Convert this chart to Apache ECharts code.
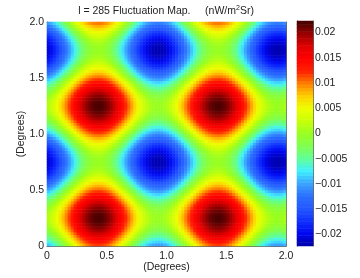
<!DOCTYPE html>
<html><head><meta charset="utf-8">
<style>html,body{margin:0;padding:0;background:#fff}#c{width:360px;height:278px}</style>
<script src="https://cdn.jsdelivr.net/npm/echarts@6/dist/echarts.min.js"></script>
</head><body><div id="c"></div>
<script>
// Map values in units of 1e-4 nW/m2Sr, one 1-degree tile sampled every 0.025 degrees.
const rowA=[-87,-77,-65,-51,-36,-20,-3,14,31,48,64,78,90,101,109,115,118,119,117,112,105,95,83,69,54,38,21,4,-13,-30,-46,-60,-72,-83,-91,-97,-100,-101,-99,-94];
const rowB=[-70,-60,-48,-34,-19,-3,14,31,48,65,81,95,107,118,126,132,135,136,134,129,122,112,100,86,71,55,38,21,4,-13,-29,-43,-55,-66,-74,-80,-83,-84,-82,-77];
const rowC=[-54,-44,-32,-18,-3,13,30,47,64,81,97,111,123,134,142,148,151,152,150,145,138,128,116,102,87,71,54,37,20,3,-13,-27,-39,-50,-58,-64,-67,-68,-66,-61];
const rowD=[-39,-29,-17,-3,12,28,45,62,79,96,112,126,138,149,157,163,166,167,165,160,153,143,131,117,102,86,69,52,35,18,2,-12,-24,-35,-43,-49,-52,-53,-51,-46];
const rowE=[-25,-15,-3,11,26,42,59,76,93,110,126,140,152,163,171,177,180,181,179,174,167,157,145,131,116,100,83,66,49,32,16,2,-10,-21,-29,-35,-38,-39,-37,-32];
const rowF=[-12,-2,10,24,39,55,72,89,106,123,139,153,165,176,184,190,193,194,192,187,180,170,158,144,129,113,96,79,62,45,29,15,3,-8,-16,-22,-25,-26,-24,-19];
const rowG=[-2,8,20,34,49,65,82,99,116,133,149,163,175,186,194,200,203,204,202,197,190,180,168,154,139,123,106,89,72,55,39,25,13,2,-6,-12,-15,-16,-14,-9];
const rowH=[6,16,28,42,57,73,90,107,124,141,157,171,183,194,202,208,211,212,210,205,198,188,176,162,147,131,114,97,80,63,47,33,21,10,2,-4,-7,-8,-6,-1];
const rowI=[11,21,33,47,62,78,95,112,129,146,162,176,188,199,207,213,216,217,215,210,203,193,181,167,152,136,119,102,85,68,52,38,26,15,7,1,-2,-3,-1,4];
const rowJ=[14,24,36,50,65,81,98,115,132,149,165,179,191,202,210,216,219,220,218,213,206,196,184,170,155,139,122,105,88,71,55,41,29,18,10,4,1,0,2,7];
const rowK=[-105,-95,-83,-69,-54,-38,-21,-4,13,30,46,60,72,83,91,97,100,101,99,94,87,77,65,51,36,20,3,-14,-31,-48,-64,-78,-90,-101,-109,-115,-118,-119,-117,-112];
const rowL=[-122,-112,-100,-86,-71,-55,-38,-21,-4,13,29,43,55,66,74,80,83,84,82,77,70,60,48,34,19,3,-14,-31,-48,-65,-81,-95,-107,-118,-126,-132,-135,-136,-134,-129];
const rowM=[-138,-128,-116,-102,-87,-71,-54,-37,-20,-3,13,27,39,50,58,64,67,68,66,61,54,44,32,18,3,-13,-30,-47,-64,-81,-97,-111,-123,-134,-142,-148,-151,-152,-150,-145];
const rowN=[-153,-143,-131,-117,-102,-86,-69,-52,-35,-18,-2,12,24,35,43,49,52,53,51,46,39,29,17,3,-12,-28,-45,-62,-79,-96,-112,-126,-138,-149,-157,-163,-166,-167,-165,-160];
const rowO=[-167,-157,-145,-131,-116,-100,-83,-66,-49,-32,-16,-2,10,21,29,35,38,39,37,32,25,15,3,-11,-26,-42,-59,-76,-93,-110,-126,-140,-152,-163,-171,-177,-180,-181,-179,-174];
const rowP=[-180,-170,-158,-144,-129,-113,-96,-79,-62,-45,-29,-15,-3,8,16,22,25,26,24,19,12,2,-10,-24,-39,-55,-72,-89,-106,-123,-139,-153,-165,-176,-184,-190,-193,-194,-192,-187];
const rowQ=[-190,-180,-168,-154,-139,-123,-106,-89,-72,-55,-39,-25,-13,-2,6,12,15,16,14,9,2,-8,-20,-34,-49,-65,-82,-99,-116,-133,-149,-163,-175,-186,-194,-200,-203,-204,-202,-197];
const rowR=[-198,-188,-176,-162,-147,-131,-114,-97,-80,-63,-47,-33,-21,-10,-2,4,7,8,6,1,-6,-16,-28,-42,-57,-73,-90,-107,-124,-141,-157,-171,-183,-194,-202,-208,-211,-212,-210,-205];
const rowS=[-203,-193,-181,-167,-152,-136,-119,-102,-85,-68,-52,-38,-26,-15,-7,-1,2,3,1,-4,-11,-21,-33,-47,-62,-78,-95,-112,-129,-146,-162,-176,-188,-199,-207,-213,-216,-217,-215,-210];
const rowT=[-206,-196,-184,-170,-155,-139,-122,-105,-88,-71,-55,-41,-29,-18,-10,-4,-1,0,-2,-7,-14,-24,-36,-50,-65,-81,-98,-115,-132,-149,-165,-179,-191,-202,-210,-216,-219,-220,-218,-213];
const tileRows=[rowA,rowB,rowC,rowD,rowE,rowF,rowG,rowH,rowI,rowJ,rowJ,rowI,rowH,rowG,rowF,rowE,rowD,rowC,rowB,rowA,rowK,rowL,rowM,rowN,rowO,rowP,rowQ,rowR,rowS,rowT,rowT,rowS,rowR,rowQ,rowP,rowO,rowN,rowM,rowL,rowK];
const xTicks=[0,0.5,1,1.5,2];
const yTicks=[0,0.5,1,1.5,2];
const barTicks=[-0.02,-0.015,-0.01,-0.005,0,0.005,0.01,0.015,0.02];
const scaleMin=-0.0223, scaleMax=0.0223, barLevels=64;
const palette=['#0000a8','#0008f0','#1030ff','#2458ff','#2c70ff','#3ca4ff','#40f0ff','#60ff98','#80ff50','#98ff20','#c8ff08','#ecff00','#ffd000','#ff8000','#ff2000','#ff0000','#e00000','#980000','#400000'];

const mapData=[];
const allRows=tileRows.concat(tileRows);
allRows.forEach((r,j)=>{r.concat(r).forEach((v,i)=>mapData.push([i,j,v*1e-4]));});
const idx=allRows.map((_,i)=>i);
const barIdx=Array.from({length:barLevels},(_,i)=>i);
const barData=barIdx.map(i=>[0,i,scaleMin+(i+0.5)*(scaleMax-scaleMin)/barLevels]);

const F='"Liberation Sans",Arial,sans-serif', TC='#222', LC='#666', FS=10.5;
const hiddenCat=(data,g)=>({type:'category',gridIndex:g,data,show:false});
const line={show:true,onZero:false,lineStyle:{color:LC,width:1}};
const tick={show:true,inside:true,length:3,lineStyle:{color:LC,width:1}};
const fmt=v=>v===0?'0':v.toFixed(1);
const chart=echarts.init(document.getElementById('c'),null,{renderer:'canvas'});
chart.setOption({
 animation:false,backgroundColor:'#fff',
 title:{text:'l = 285 Fluctuation Map.     (nW/m{s|2}Sr)',left:161,top:0,textAlign:'center',
  textStyle:{fontFamily:F,fontSize:FS,fontWeight:'normal',color:TC,rich:{s:{fontFamily:F,fontSize:7,color:TC,verticalAlign:'top',lineHeight:12,padding:[0,0,4,0]}}}},
 grid:[{left:47,top:22,width:239,height:224,outerBoundsMode:'none'},{left:297,top:21,width:16,height:225,outerBoundsMode:'none'}],
 visualMap:{show:false,seriesIndex:[0,1],dimension:2,min:scaleMin,max:scaleMax,inRange:{color:palette}},
 xAxis:[
  hiddenCat(idx,0),
  {type:'value',gridIndex:0,min:0,max:2,position:'bottom',axisLine:line,axisTick:{...tick,customValues:xTicks},splitLine:{show:false},
   axisLabel:{show:true,customValues:xTicks,formatter:fmt,fontFamily:F,fontSize:FS,color:TC,margin:5},
   name:'(Degrees)',nameLocation:'middle',nameGap:16,nameMoveOverlap:false,nameTextStyle:{fontFamily:F,fontSize:FS,color:TC}},
  {type:'value',gridIndex:0,min:0,max:2,position:'top',axisLine:line,axisTick:{...tick,customValues:xTicks},axisLabel:{show:false},splitLine:{show:false}},
  hiddenCat(['c'],1)
 ],
 yAxis:[
  hiddenCat(idx,0),
  {type:'value',gridIndex:0,min:0,max:2,position:'left',axisLine:line,axisTick:{...tick,customValues:yTicks},splitLine:{show:false},
   axisLabel:{show:true,customValues:yTicks,formatter:fmt,fontFamily:F,fontSize:FS,color:TC,margin:3},
   name:'(Degrees)',nameLocation:'middle',nameGap:20,nameMoveOverlap:false,nameRotate:90,nameTextStyle:{fontFamily:F,fontSize:FS,color:TC}},
  {type:'value',gridIndex:0,min:0,max:2,position:'right',axisLine:line,axisTick:{...tick,customValues:yTicks},axisLabel:{show:false},splitLine:{show:false}},
  hiddenCat(barIdx,1),
  {type:'value',gridIndex:1,min:scaleMin,max:scaleMax,position:'right',axisLine:line,
   axisTick:{...tick,customValues:barTicks},splitLine:{show:false},
   axisLabel:{show:true,customValues:barTicks,formatter:v=>v===0?'0':(v<0?'\u2212':'')+String(Math.abs(+v.toFixed(3))),fontFamily:F,fontSize:FS,color:TC,margin:2}},
  {type:'value',gridIndex:1,min:scaleMin,max:scaleMax,position:'left',axisLine:line,axisTick:{show:false},axisLabel:{show:false},splitLine:{show:false}}
 ],
 series:[
  {type:'heatmap',name:'map',xAxisIndex:0,yAxisIndex:0,data:mapData,progressive:0,emphasis:{disabled:true},z:1},
  {type:'heatmap',name:'scale',xAxisIndex:3,yAxisIndex:3,data:barData,progressive:0,emphasis:{disabled:true},z:1}
 ]
});
</script></body></html>
